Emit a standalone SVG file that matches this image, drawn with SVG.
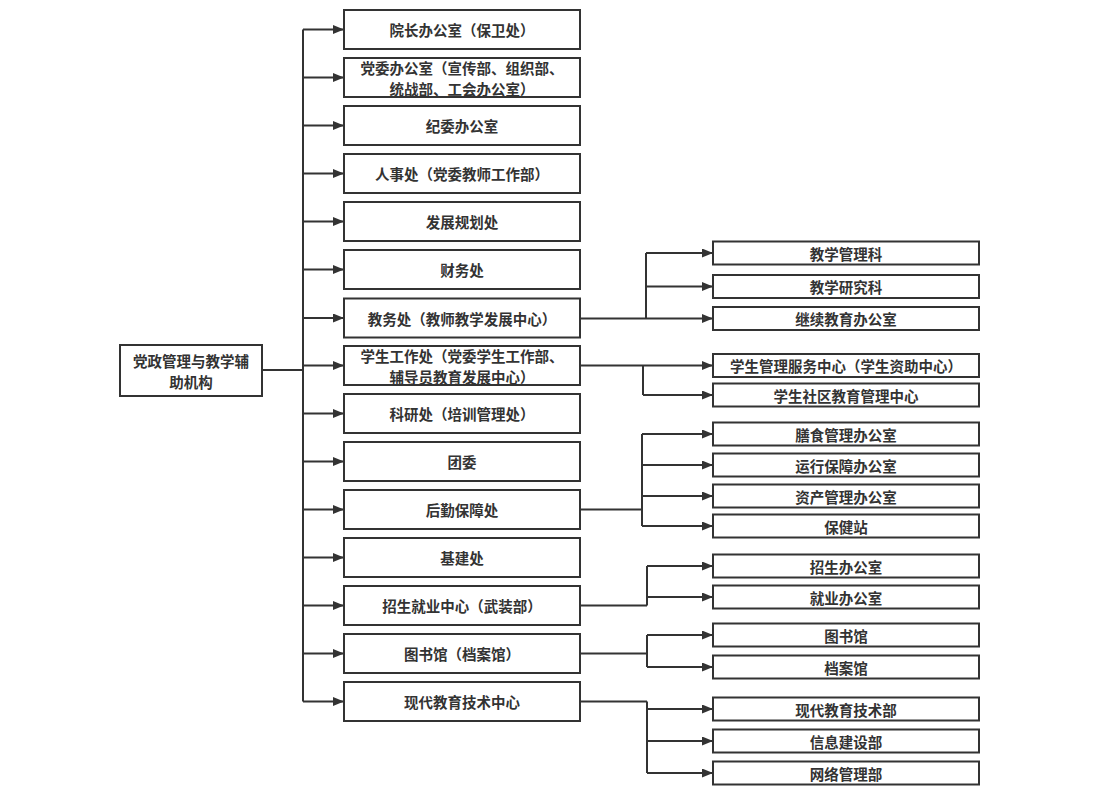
<svg xmlns="http://www.w3.org/2000/svg" width="1106" height="810" viewBox="0 0 1106 810">
<style>
.box{fill:#fff;stroke:#333;stroke-width:2}
.sbox{fill:#fff;stroke:#333;stroke-width:2}
text{font-family:"Noto Sans CJK SC","Noto Sans",sans-serif;font-weight:bold;font-size:14.5px;fill:#333;text-anchor:middle;dominant-baseline:central}
.ln{fill:none;stroke:#333;stroke-width:2}
.ar{fill:none;stroke:#333;stroke-width:2;marker-end:url(#ah)}
</style>
<defs>
<marker id="ah" markerUnits="userSpaceOnUse" markerWidth="12" markerHeight="10" refX="11" refY="4.5" orient="auto">
<path d="M0,0 L11,4.5 L0,9 z" fill="#333"/>
</marker>
</defs>
<rect width="1106" height="810" fill="#fff"/>
<g id="connectors">
<path class="ln" d="M262,370 H303" stroke-width="2.5"/>
<path class="ln" d="M303,29.5 V701.5" stroke-width="2.5"/>
<path class="ar" d="M303,29.5 H344"/>
<path class="ar" d="M303,77.5 H344"/>
<path class="ar" d="M303,125.5 H344"/>
<path class="ar" d="M303,173.5 H344"/>
<path class="ar" d="M303,221.5 H344"/>
<path class="ar" d="M303,269.5 H344"/>
<path class="ar" d="M303,318 H344"/>
<path class="ar" d="M303,365.5 H344"/>
<path class="ar" d="M303,413.5 H344"/>
<path class="ar" d="M303,461.5 H344"/>
<path class="ar" d="M303,509.5 H344"/>
<path class="ar" d="M303,557.5 H344"/>
<path class="ar" d="M303,605.5 H344"/>
<path class="ar" d="M303,653.5 H344"/>
<path class="ar" d="M303,701.5 H344"/>
<path class="ar" d="M580,318.5 H713"/>
<path class="ln" d="M646,253 V318.5"/>
<path class="ar" d="M646,253 H713"/>
<path class="ar" d="M646,286.5 H713"/>
<path class="ar" d="M580,365.5 H713"/>
<path class="ln" d="M643,365.5 V395"/>
<path class="ar" d="M643,395 H713"/>
<path class="ln" d="M580,509.5 H642"/>
<path class="ln" d="M642,434 V526"/>
<path class="ar" d="M642,434 H713"/>
<path class="ar" d="M642,465 H713"/>
<path class="ar" d="M642,496 H713"/>
<path class="ar" d="M642,526 H713"/>
<path class="ln" d="M580,605.5 H647"/>
<path class="ln" d="M647,566 V605.5"/>
<path class="ar" d="M647,566 H713"/>
<path class="ar" d="M647,597 H713"/>
<path class="ln" d="M580,653.5 H647"/>
<path class="ln" d="M647,635 V667"/>
<path class="ar" d="M647,635 H713"/>
<path class="ar" d="M647,667 H713"/>
<path class="ln" d="M580,701.5 H647"/>
<path class="ln" d="M647,701.5 V773"/>
<path class="ar" d="M647,709 H713"/>
<path class="ar" d="M647,741 H713"/>
<path class="ar" d="M647,773 H713"/>
</g>
<g id="root"><rect class="box" x="120" y="345" width="142" height="51"/><text x="191" y="360">党政管理与教学辅</text><text x="191" y="381">助机构</text></g>
<g id="n1"><rect class="box" x="344" y="10" width="236" height="39"/><text x="462" y="29.5">院长办公室（保卫处）</text></g>
<g id="n2"><rect class="box" x="344" y="58" width="236" height="39"/><text x="462" y="67.5">党委办公室（宣传部、组织部、</text><text x="462" y="88.5">统战部、工会办公室）</text></g>
<g id="n3"><rect class="box" x="344" y="106" width="236" height="39"/><text x="462" y="125.5">纪委办公室</text></g>
<g id="n4"><rect class="box" x="344" y="154" width="236" height="39"/><text x="462" y="173.5">人事处（党委教师工作部）</text></g>
<g id="n5"><rect class="box" x="344" y="202" width="236" height="39"/><text x="462" y="221.5">发展规划处</text></g>
<g id="n6"><rect class="box" x="344" y="250" width="236" height="39"/><text x="462" y="269.5">财务处</text></g>
<g id="n7"><rect class="box" x="344" y="298.5" width="236" height="39"/><text x="462" y="318">教务处（教师教学发展中心）</text></g>
<g id="n8"><rect class="box" x="344" y="346" width="236" height="39"/><text x="462" y="355.5">学生工作处（党委学生工作部、</text><text x="462" y="376.5">辅导员教育发展中心）</text></g>
<g id="n9"><rect class="box" x="344" y="394" width="236" height="39"/><text x="462" y="413.5">科研处（培训管理处）</text></g>
<g id="n10"><rect class="box" x="344" y="442" width="236" height="39"/><text x="462" y="461.5">团委</text></g>
<g id="n11"><rect class="box" x="344" y="490" width="236" height="39"/><text x="462" y="509.5">后勤保障处</text></g>
<g id="n12"><rect class="box" x="344" y="538" width="236" height="39"/><text x="462" y="557.5">基建处</text></g>
<g id="n13"><rect class="box" x="344" y="586" width="236" height="39"/><text x="462" y="605.5">招生就业中心（武装部）</text></g>
<g id="n14"><rect class="box" x="344" y="634" width="236" height="39"/><text x="462" y="653.5">图书馆（档案馆）</text></g>
<g id="n15"><rect class="box" x="344" y="682" width="236" height="39"/><text x="462" y="701.5">现代教育技术中心</text></g>
<g id="s1"><rect class="sbox" x="713" y="241.5" width="266" height="23"/><text x="846" y="253">教学管理科</text></g>
<g id="s2"><rect class="sbox" x="713" y="275" width="266" height="23"/><text x="846" y="286.5">教学研究科</text></g>
<g id="s3"><rect class="sbox" x="713" y="307" width="266" height="23"/><text x="846" y="318.5">继续教育办公室</text></g>
<g id="s4"><rect class="sbox" x="713" y="354" width="266" height="23"/><text x="846" y="365.5">学生管理服务中心（学生资助中心）</text></g>
<g id="s5"><rect class="sbox" x="713" y="383.5" width="266" height="23"/><text x="846" y="395">学生社区教育管理中心</text></g>
<g id="s6"><rect class="sbox" x="713" y="422.5" width="266" height="23"/><text x="846" y="434">膳食管理办公室</text></g>
<g id="s7"><rect class="sbox" x="713" y="453.5" width="266" height="23"/><text x="846" y="465">运行保障办公室</text></g>
<g id="s8"><rect class="sbox" x="713" y="484.5" width="266" height="23"/><text x="846" y="496">资产管理办公室</text></g>
<g id="s9"><rect class="sbox" x="713" y="514.5" width="266" height="23"/><text x="846" y="526">保健站</text></g>
<g id="s10"><rect class="sbox" x="713" y="554.5" width="266" height="23"/><text x="846" y="566">招生办公室</text></g>
<g id="s11"><rect class="sbox" x="713" y="585.5" width="266" height="23"/><text x="846" y="597">就业办公室</text></g>
<g id="s12"><rect class="sbox" x="713" y="623.5" width="266" height="23"/><text x="846" y="635">图书馆</text></g>
<g id="s13"><rect class="sbox" x="713" y="655.5" width="266" height="23"/><text x="846" y="667">档案馆</text></g>
<g id="s14"><rect class="sbox" x="713" y="697.5" width="266" height="23"/><text x="846" y="709">现代教育技术部</text></g>
<g id="s15"><rect class="sbox" x="713" y="729.5" width="266" height="23"/><text x="846" y="741">信息建设部</text></g>
<g id="s16"><rect class="sbox" x="713" y="761.5" width="266" height="23"/><text x="846" y="773">网络管理部</text></g>
</svg>
